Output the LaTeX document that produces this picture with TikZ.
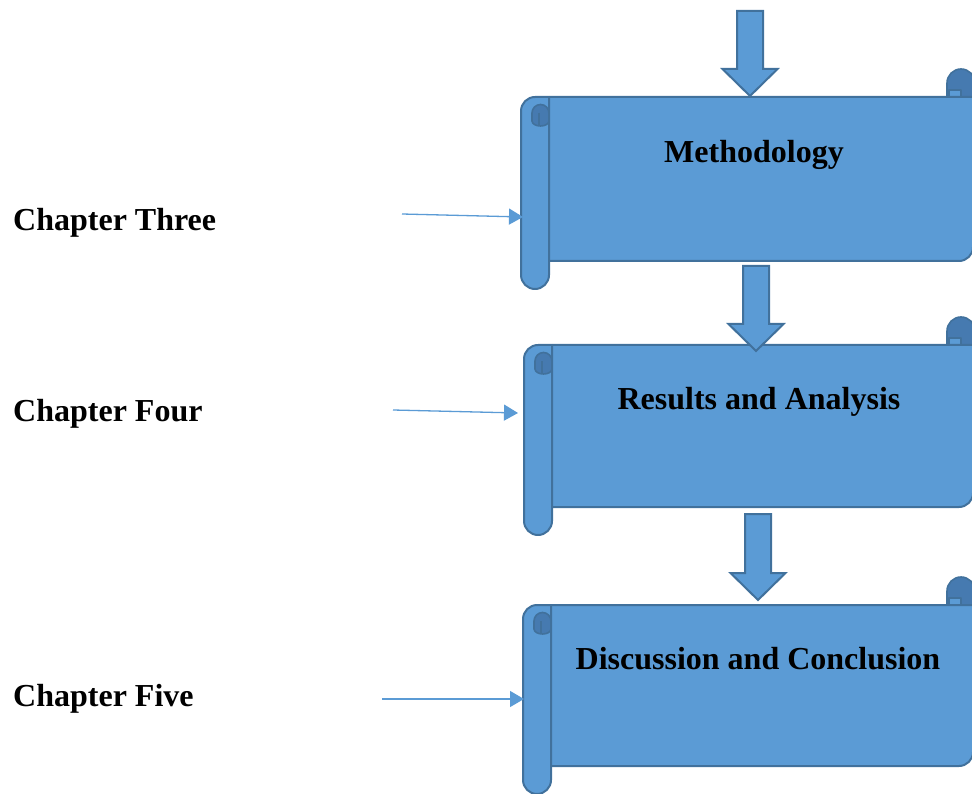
\documentclass[tikz,border=0pt]{standalone}
\usepackage{fontspec}
\setmainfont{Liberation Serif}
\usetikzlibrary{arrows.meta}

\definecolor{scrollfill}{HTML}{5B9BD5}
\definecolor{scrolledge}{HTML}{41719C}
\definecolor{scrollcurl}{HTML}{467AB0}

\tikzset{
  paper/.style={fill=scrollfill, draw=scrolledge, line width=2pt, line join=round},
  curlpart/.style={fill=scrollcurl, draw=scrolledge, line width=1.6pt, line join=round},
  flowarrow/.style={fill=scrollfill, draw=scrolledge, line width=2pt, line join=miter},
  pointer/.style={draw=scrollfill, line width=1.3pt, -{Triangle[length=14pt,width=16pt]}},
  heading/.style={font=\fontsize{32}{36}\selectfont\bfseries, inner sep=0pt},
}

% vertical scroll: #1 left edge, #2 top (right curl), #3 bottom (left roll)
\newcommand{\vscrollshape}[3]{%
  % curl at the top right
  \draw[curlpart] (947,{#2+28}) -- (947,{#2+14})
     arc[start angle=180,end angle=0,radius=14pt] -- (975,{#2+28}) -- cycle;
  \draw[paper, line width=1.2pt] (949,{#2+28}) -- (949,{#2+21}) -- (961,{#2+21}) -- (961,{#2+28});
  % sheet
  \draw[paper] ({#1+28},{#2+28}) -- (973,{#2+28}) -- (973,{#3-42})
     arc[start angle=0,end angle=-90,radius=14pt] -- ({#1+28},{#3-28});
  % roll on the left
  \draw[paper] (#1,{#2+42}) arc[start angle=180,end angle=90,radius=14pt]
     -- ({#1+28},{#2+28}) -- ({#1+28},{#3-14})
     arc[start angle=0,end angle=-180,radius=14pt] -- cycle;
  % curl at the top of the roll
  \draw[curlpart] ({#1+11},{#2+44}) arc[start angle=180,end angle=0,radius=8.5pt]
     -- ({#1+28},{#2+52}) arc[start angle=0,end angle=-180,x radius=8.5pt,y radius=5pt] -- cycle;
  \draw[scrolledge, line width=1.4pt] ({#1+18},{#2+44}) -- ({#1+18},{#2+56});
}

% down arrow: #1 centre x, #2 top, #3 tip
\newcommand{\downblock}[3]{%
  \draw[flowarrow] ({#1-13},#2) -- ({#1+13},#2) -- ({#1+13},{#3-27}) -- ({#1+27.5},{#3-27})
     -- (#1,#3) -- ({#1-27.5},{#3-27}) -- ({#1-13},{#3-27}) -- cycle;
}

\begin{document}
\begin{tikzpicture}[x=1pt,y=-1pt]
  \useasboundingbox (0,0) rectangle (972,794);
  \clip (0,0) rectangle (972,794);

  % scrolls
  \vscrollshape{521}{69}{289}
  \vscrollshape{524}{317}{535}
  \vscrollshape{523}{577}{794}

  % flow arrows between the stages
  \downblock{750}{11}{96}
  \downblock{756}{266}{351}
  \downblock{758}{514}{600}

  % stage titles
  \node[heading, anchor=base] (m1) at (754,163) {Methodology};
  \node[heading, anchor=base] (m2) at (759,409) {Results and Analysis};
  \node[heading, anchor=base] (m3) at (758,669) {Discussion and Conclusion};

  % chapter labels
  \node[heading, anchor=base west] (c3) at (13,231) {Chapter Three};
  \node[heading, anchor=base west] (c4) at (13,421) {Chapter Four};
  \node[heading, anchor=base west] (c5) at (13,706) {Chapter Five};

  % pointers from the labels to the scrolls
  \coordinate (p3s) at (402,214);
  \coordinate (p3e) at (523,217);
  \coordinate (p4s) at (393,410);
  \coordinate (p4e) at (518,413);
  \coordinate (p5s) at (382,699);
  \coordinate (p5e) at (524,699);
  \draw[pointer] (p3s) -- (p3e);
  \draw[pointer] (p4s) -- (p4e);
  \draw[pointer] (p5s) -- (p5e);
\end{tikzpicture}
\end{document}
